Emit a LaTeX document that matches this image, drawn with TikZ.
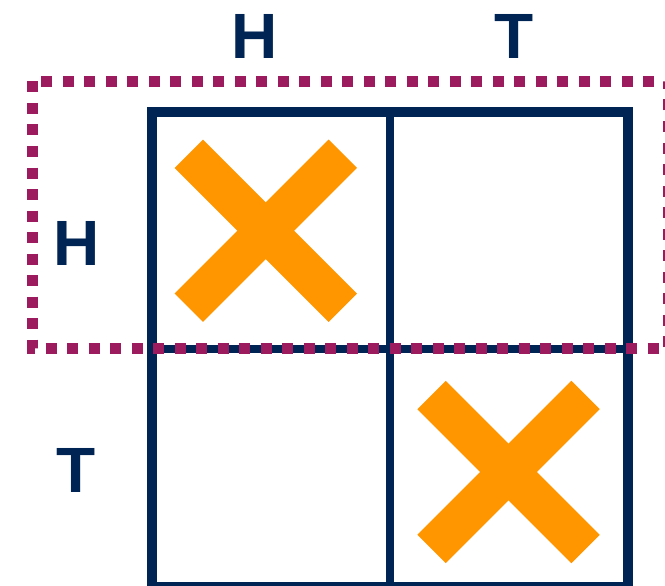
\documentclass[tikz,border=0pt]{standalone}
\usepackage{fontspec}
\setmainfont{Liberation Sans}
\definecolor{navy}{RGB}{0,37,84}
\definecolor{plum}{RGB}{156,27,95}
\definecolor{amber}{RGB}{255,150,0}
\begin{document}
\begin{tikzpicture}[x=1pt,y=-1pt,
  lbl/.style={font=\fontsize{64}{64}\selectfont\bfseries, text=navy, inner sep=0pt, anchor=center},
  gridouter/.style={draw=navy, line width=10pt, line join=miter},
  gridinner/.style={draw=navy, line width=8pt},
  crossarm/.style={draw=amber, line width=40pt, line cap=butt},
  dotbox/.style={draw=plum, line width=11pt, dash pattern=on 11pt off 10.5pt}]
\useasboundingbox (0,0) rectangle (665,586);
% crosses
\draw[crossarm] (265.75-77,230.75-77) -- (265.75+77,230.75+77);
\draw[crossarm] (265.75+77,230.75-77) -- (265.75-77,230.75+77);
\draw[crossarm] (508.5-77,472-77) -- (508.5+77,472+77);
\draw[crossarm] (508.5+77,472-77) -- (508.5-77,472+77);
% grid
\draw[gridinner] (390,112) -- (390,587);
\draw[gridinner] (152,349) -- (628,349);
\draw[gridouter] (152,112) rectangle (628,587);
% labels
\node[lbl] (colH) at (254.5,36.5) {H};
\node[lbl] (colT) at (514,36.5) {T};
\node[lbl] (rowH) at (77,243) {H};
\node[lbl] (rowT) at (76.5,470) {T};
% dotted highlight
\draw[dotbox] (32.5,81.5) rectangle (668,348);
\end{tikzpicture}
\end{document}
